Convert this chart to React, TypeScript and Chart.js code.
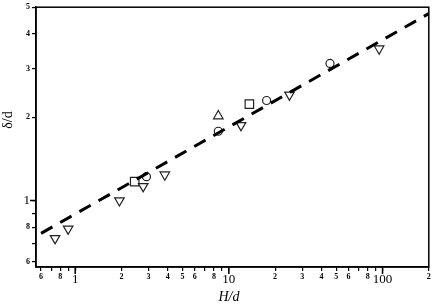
import React, { useEffect, useRef } from "react";
import { Chart, registerables } from "chart.js";

Chart.register(...registerables);

// Data (H/d vs δ/d)
const triDownX = [0.74, 0.9, 1.94, 2.77, 3.83, 12.0, 24.8, 95];
const triDownY = [0.73, 0.79, 1.0, 1.125, 1.24, 1.87, 2.41, 3.54];
const circleX = [2.91, 8.54, 17.6, 45.5];
const circleY = [1.22, 1.78, 2.3, 3.13];
const squareX = [2.44, 13.6];
const squareY = [1.17, 2.23];
const triUpX = [8.54];
const triUpY = [2.02];
const fitX = [0.6, 200];
const fitY = [0.761, 4.74];

const xTicks = [0.6, 0.7, 0.8, 0.9, 1, 2, 3, 4, 5, 6, 7, 8, 9, 10, 20, 30, 40, 50, 60, 70, 80, 90, 100, 200];
const yTicks = [0.6, 0.7, 0.8, 0.9, 1, 2, 3, 4, 5];
const unlabeled = [0.7, 0.9, 7, 9, 70, 90];
const majors = [1, 10, 100];

const SERIF = '"Liberation Serif", "Times New Roman", serif';

function tickLabel(v: number): string {
  if (unlabeled.some((u) => Math.abs(u - v) < 1e-9)) return "";
  if (majors.some((m) => Math.abs(m - v) < 1e-9)) return String(v);
  if (v < 1) return String(Math.round(v * 10));
  if (v < 10) return String(Math.round(v));
  if (v < 100) return String(Math.round(v / 10));
  return String(Math.round(v / 100));
}

function isMajor(v: number) {
  return majors.some((m) => Math.abs(m - v) < 1e-9);
}

function pts(xs: number[], ys: number[]) {
  return xs.map((x, i) => ({ x, y: ys[i] }));
}

const framePlugin = {
  id: "frame",
  afterDraw(chart: any) {
    const { ctx, chartArea } = chart;
    const { left, top, right, bottom } = chartArea;
    ctx.save();
    ctx.strokeStyle = "#000";
    ctx.lineWidth = 1.5;
    ctx.strokeRect(left, top, right - left, bottom - top);
    // longer major ticks
    const xs = chart.scales.x;
    const ys = chart.scales.y;
    ctx.lineWidth = 1.5;
    ctx.beginPath();
    for (const m of majors) {
      const px = xs.getPixelForValue(m);
      ctx.moveTo(px, bottom);
      ctx.lineTo(px, bottom + 7);
    }
    const py = ys.getPixelForValue(1);
    ctx.moveTo(left, py);
    ctx.lineTo(left - 6, py);
    ctx.stroke();
    // axis titles
    ctx.fillStyle = "#000";
    ctx.textAlign = "center";
    ctx.textBaseline = "middle";
    ctx.font = "italic 14px " + SERIF;
    ctx.fillText("H/d", 229, 297);
    ctx.translate(8, 120);
    ctx.rotate(-Math.PI / 2);
    ctx.font = "14px " + SERIF;
    ctx.fillText("δ/d", 0, 0);
    ctx.restore();
  },
};

export default function App() {
  const ref = useRef<HTMLCanvasElement | null>(null);
  useEffect(() => {
    if (!ref.current) return;
    const markerStyle = {
      borderColor: "#222",
      backgroundColor: "#fff",
      borderWidth: 1.2,
      showLine: false,
    };
    const chart = new Chart(ref.current, {
      type: "scatter",
      data: {
        datasets: [
          {
            label: "fit",
            data: pts(fitX, fitY),
            showLine: true,
            borderColor: "#000",
            borderWidth: 3,
            borderDash: [13, 9],
            pointRadius: 0,
            fill: false,
          } as any,
          {
            label: "tri-down",
            data: pts(triDownX, triDownY),
            pointStyle: "triangle",
            rotation: 180,
            pointRadius: 5.5,
            ...markerStyle,
          },
          {
            label: "circle",
            data: pts(circleX, circleY),
            pointStyle: "circle",
            pointRadius: 4,
            ...markerStyle,
          },
          {
            label: "square",
            data: pts(squareX, squareY),
            pointStyle: "rect",
            pointRadius: 6,
            ...markerStyle,
          },
          {
            label: "tri-up",
            data: pts(triUpX, triUpY),
            pointStyle: "triangle",
            pointRadius: 5.5,
            ...markerStyle,
          },
        ],
      },
      options: {
        responsive: false,
        animation: false,
        layout: { padding: { left: 0, top: 5, right: 2, bottom: 0 } },
        plugins: { legend: { display: false }, tooltip: { enabled: false } },
        scales: {
          x: {
            type: "logarithmic",
            min: 0.556,
            max: 200,
            afterBuildTicks: (s: any) => {
              s.ticks = xTicks.map((v) => ({ value: v }));
            },
            afterFit: (s: any) => {
              s.height = 40;
              s.paddingLeft = 0;
              s.paddingRight = 0;
            },
            grid: { display: true, drawOnChartArea: false, drawTicks: true, tickLength: 4, color: "#000", lineWidth: 1.2 },
            border: { display: true, color: "#000", width: 1.5 },
            ticks: {
              autoSkip: false,
              maxRotation: 0,
              minRotation: 0,
              padding: 1,
              color: "#000",
              callback: (v: any) => tickLabel(Number(v)),
              font: (c: any) =>
                c.tick && isMajor(c.tick.value)
                  ? { family: SERIF, size: 13 }
                  : { family: SERIF, size: 8, weight: "bold" },
            },
          },
          y: {
            type: "logarithmic",
            min: 0.575,
            max: 5,
            afterBuildTicks: (s: any) => {
              s.ticks = yTicks.map((v) => ({ value: v }));
            },
            afterFit: (s: any) => {
              s.width = 36;
              s.paddingTop = 0;
              s.paddingBottom = 0;
            },
            grid: { display: true, drawOnChartArea: false, drawTicks: true, tickLength: 4, color: "#000", lineWidth: 1.2 },
            border: { display: true, color: "#000", width: 1.5 },
            ticks: {
              autoSkip: false,
              padding: 2,
              color: "#000",
              callback: (v: any) => tickLabel(Number(v)),
              font: (c: any) =>
                c.tick && isMajor(c.tick.value)
                  ? { family: SERIF, size: 13 }
                  : { family: SERIF, size: 8, weight: "bold" },
            },
          },
        },
      },
      plugins: [framePlugin],
    } as any);
    return () => chart.destroy();
  }, []);
  return (
    <div style={{ position: "absolute", left: 0, top: 0, width: 436, height: 307, background: "#fff" }}>
      <canvas ref={ref} width={436} height={307} style={{ display: "block" }} />
    </div>
  );
}
